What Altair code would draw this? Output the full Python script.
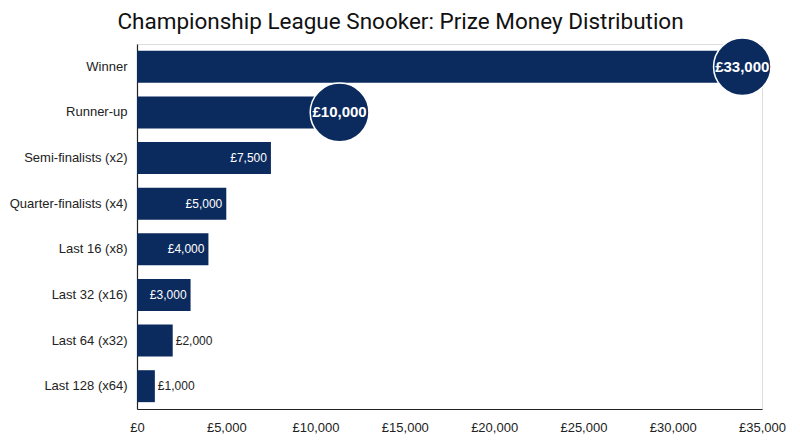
import altair as alt
import pandas as pd

categories = ["Winner", "Runner-up", "Semi-finalists (x2)", "Quarter-finalists (x4)",
              "Last 16 (x8)", "Last 32 (x16)", "Last 64 (x32)", "Last 128 (x64)"]
prize = [33000, 10000, 7500, 5000, 4000, 3000, 2000, 1000]
inside = [False, False, True, True, True, True, False, False]
highlight = [True, True, False, False, False, False, False, False]

df = pd.DataFrame({"cat": categories, "prize": prize, "hl": highlight, "inside": inside})
df["label"] = ["£{:,}".format(v) for v in prize]

NAVY = "#0b2a5e"
ysort = alt.Y("cat:N", sort=categories)

x = alt.X("prize:Q", scale=alt.Scale(domain=[0, 35000], nice=False),
          axis=alt.Axis(title=None, values=list(range(0, 35001, 5000)),
                        labelExpr="'£' + format(datum.value, ',')",
                        grid=False, ticks=False, domainColor="#222", domainWidth=1.2,
                        labelPadding=12, labelFontSize=13, labelColor="#222",
                        labelFlush=False, labelFont="Liberation Sans"))
y = alt.Y("cat:N", sort=categories,
          scale=alt.Scale(paddingInner=0.3, paddingOuter=0.15),
          axis=alt.Axis(title=None, ticks=False, domainColor="#222", domainWidth=1.2,
                        labelPadding=10, labelFontSize=13, labelColor="#222",
                        labelFont="Liberation Sans"))

base = alt.Chart(df)
bars = base.mark_bar(color=NAVY).encode(x=x, y=y)

def bubble(name, off, size):
    src = base.transform_filter(alt.datum.cat == name)
    c = src.mark_circle(color=NAVY, opacity=1, size=size, stroke="white",
                        strokeWidth=1.5, xOffset=off).encode(x="prize:Q", y=ysort)
    t = src.mark_text(color="white", fontSize=15, fontWeight="bold",
                      font="Liberation Sans", xOffset=off).encode(
        x="prize:Q", y=ysort, text="label:N")
    return c + t

in_text = base.transform_filter("datum.inside").mark_text(
    color="white", fontSize=12, align="right", dx=-4, font="Liberation Sans"
).encode(x="prize:Q", y=ysort, text="label:N")

out_text = base.transform_filter("!datum.inside && !datum.hl").mark_text(
    color="#222", fontSize=12, align="left", dx=3, font="Liberation Sans"
).encode(x="prize:Q", y=ysort, text="label:N")

chart = alt.layer(bars, bubble("Winner", 16, 3300), bubble("Runner-up", 24, 3450),
                  in_text, out_text).properties(
    width=625, height=365,
    title=alt.TitleParams("Championship League Snooker: Prize Money Distribution",
                          font="Roboto", fontSize=22.5, fontWeight="normal", color="#111",
                          anchor="middle", dx=-49, offset=2),
    autosize=alt.AutoSizeParams(type="none"),
    padding={"left": 129, "top": 36, "right": 30, "bottom": 30},
).configure_view(stroke=None).configure(background="white")

chart.save("out.html", embed_options={"renderer": "svg", "actions": False})
